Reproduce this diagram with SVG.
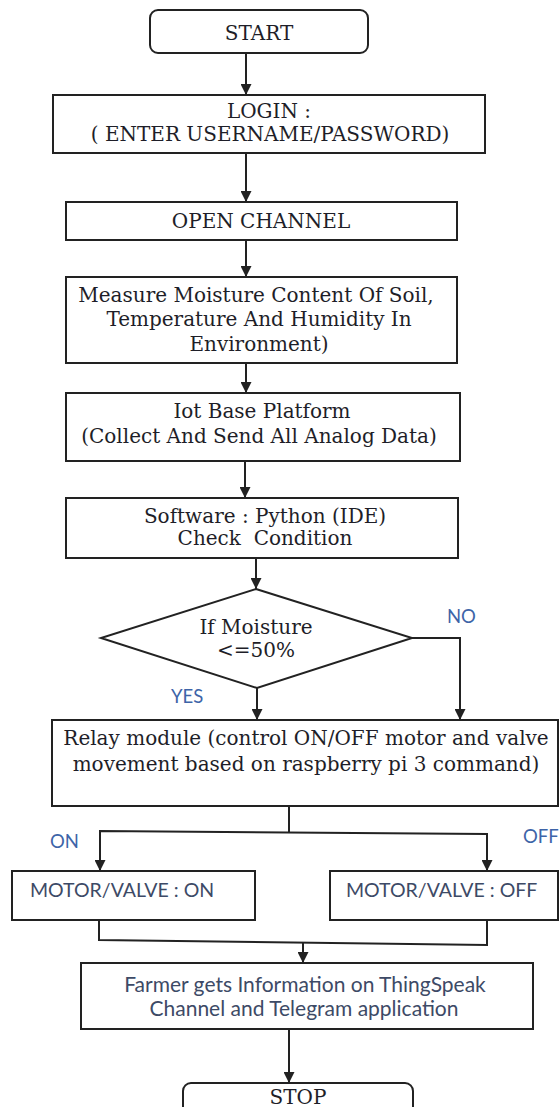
<svg xmlns="http://www.w3.org/2000/svg" width="559" height="1107" viewBox="0 0 559 1107">
  <style>
    .box { fill: #ffffff; stroke: #222222; stroke-width: 2; }
    .line { fill: none; stroke: #222222; stroke-width: 2; }
    .serif { font-family: "DejaVu Serif", "Liberation Serif", serif; font-size: 20px; fill: #1e1e28; text-anchor: middle; }
    .sans { font-family: Lato, "Liberation Sans", sans-serif; font-size: 19.5px; fill: #3d4a66; }
    .info { font-family: Lato, "Liberation Sans", sans-serif; font-size: 21px; fill: #3d4a66; text-anchor: middle; }
    .lbl { font-family: Lato, "Liberation Sans", sans-serif; font-size: 18.5px; fill: #3d64a8; }
  </style>
  <defs>
    <marker id="ah" viewBox="0 0 10 10" refX="10" refY="5" markerWidth="12" markerHeight="11" orient="auto" markerUnits="userSpaceOnUse">
      <path d="M0,0 L10,5 L0,10 z" fill="#222222"/>
    </marker>
  </defs>
  <rect width="559" height="1107" fill="#ffffff"/>

  <!-- flow connectors -->
  <g id="connectors">
    <line class="line" x1="246" y1="53" x2="246" y2="95" marker-end="url(#ah)"/>
    <line class="line" x1="246" y1="153" x2="246" y2="202" marker-end="url(#ah)"/>
    <line class="line" x1="246" y1="240" x2="246" y2="277" marker-end="url(#ah)"/>
    <line class="line" x1="246" y1="363" x2="246" y2="393" marker-end="url(#ah)"/>
    <line class="line" x1="245" y1="461" x2="245" y2="498" marker-end="url(#ah)"/>
    <line class="line" x1="256" y1="558" x2="256" y2="589" marker-end="url(#ah)"/>
    <!-- YES branch -->
    <line class="line" x1="257" y1="688" x2="257" y2="720" marker-end="url(#ah)"/>
    <!-- NO branch -->
    <polyline class="line" points="412,638 460,638 460,720" marker-end="url(#ah)"/>
    <!-- relay split to ON / OFF -->
    <line class="line" x1="289" y1="806" x2="289" y2="832"/>
    <polyline class="line" points="100,871 100,831 487,834 487,871" marker-end="url(#ah)"/>
    <line class="line" x1="100" y1="861" x2="100" y2="871" marker-end="url(#ah)"/>
    <!-- ON / OFF merge -->
    <polyline class="line" points="99,920 99,940 487,945 487,920"/>
    <line class="line" x1="303" y1="942" x2="303" y2="963" marker-end="url(#ah)"/>
    <line class="line" x1="289" y1="1029" x2="289" y2="1083" marker-end="url(#ah)"/>
  </g>

  <g id="start">
    <rect class="box" x="150" y="10" width="218" height="43" rx="8"/>
    <text class="serif" x="259" y="40">START</text>
  </g>

  <g id="login">
    <rect class="box" x="53" y="95" width="432" height="58"/>
    <text class="serif" x="269" y="118">LOGIN :</text>
    <text class="serif" x="270" y="141">( ENTER USERNAME/PASSWORD)</text>
  </g>

  <g id="open-channel">
    <rect class="box" x="66" y="202" width="391" height="38"/>
    <text class="serif" x="261" y="228">OPEN CHANNEL</text>
  </g>

  <g id="measure">
    <rect class="box" x="66" y="277" width="391" height="86"/>
    <text class="serif" x="256" y="302">Measure Moisture Content Of Soil,</text>
    <text class="serif" x="259" y="326">Temperature And Humidity In</text>
    <text class="serif" x="259" y="351">Environment)</text>
  </g>

  <g id="iot-platform">
    <rect class="box" x="66" y="393" width="394" height="68"/>
    <text class="serif" x="262" y="418">Iot Base Platform</text>
    <text class="serif" x="259" y="443">(Collect And Send All Analog Data)</text>
  </g>

  <g id="software">
    <rect class="box" x="66" y="498" width="392" height="60"/>
    <text class="serif" x="265" y="523">Software : Python (IDE)</text>
    <text class="serif" x="265" y="545" xml:space="preserve">Check  Condition</text>
  </g>

  <g id="decision">
    <polygon class="box" points="256,589 412,638 257,688 101,638"/>
    <text class="serif" x="256" y="634">If Moisture</text>
    <text class="serif" x="256" y="657">&lt;=50%</text>
    <text class="lbl" x="447" y="623">NO</text>
    <text class="lbl" x="171" y="703">YES</text>
  </g>

  <g id="relay">
    <rect class="box" x="52" y="720" width="506" height="86"/>
    <text class="serif" x="306" y="745">Relay module (control ON/OFF motor and valve</text>
    <text class="serif" x="306" y="771">movement based on raspberry pi 3 command)</text>
  </g>

  <g id="labels-on-off">
    <text class="lbl" x="50" y="848">ON</text>
    <text class="lbl" x="523" y="843">OFF</text>
  </g>

  <g id="motor-on">
    <rect class="box" x="12" y="871" width="243" height="49"/>
    <text class="sans" x="30" y="897">MOTOR/VALVE : ON</text>
  </g>

  <g id="motor-off">
    <rect class="box" x="330" y="871" width="228" height="49"/>
    <text class="sans" x="346" y="897">MOTOR/VALVE : OFF</text>
  </g>

  <g id="farmer-info">
    <rect class="box" x="81" y="963" width="452" height="66"/>
    <text class="info" x="305" y="992">Farmer gets Information on ThingSpeak</text>
    <text class="info" x="304" y="1016">Channel and Telegram application</text>
  </g>

  <g id="stop">
    <rect class="box" x="183" y="1083" width="230" height="45" rx="8"/>
    <text class="serif" x="298" y="1104">STOP</text>
  </g>
</svg>
